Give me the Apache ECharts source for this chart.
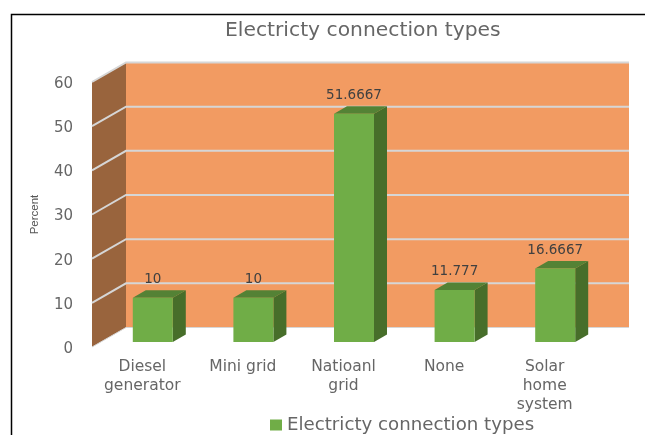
<!DOCTYPE html>
<html><head><meta charset="utf-8">
<style>html,body{margin:0;padding:0;background:#fff}#c{width:645px;height:435px}</style>
<script src="https://cdn.jsdelivr.net/npm/echarts@6/dist/echarts.min.js"></script>
</head><body><div id="c"></div>
<script>
const categories = ['Diesel\ngenerator', 'Mini grid', 'Natioanl\ngrid', 'None', 'Solar\nhome\nsystem'];
const values = [10, 10, 51.6667, 11.777, 16.6667];
const valueLabels = ['10', '10', '51.6667', '11.777', '16.6667'];
const yTicks = [0, 10, 20, 30, 40, 50, 60];
const titleText = 'Electricty connection types';
const seriesName = 'Electricty connection types';

const FONT = '"DejaVu Sans"';
const WALL_DX = 34, WALL_DY = -19.5;
const BAR_DX = 10.5, BAR_DY = -5, BAR_HALF = 20, DEPTH_DX = 13, DEPTH_DY = -7.5;

const chart = echarts.init(document.getElementById('c'), null, {renderer: 'canvas'});
chart.setOption({
  animation: false,
  backgroundColor: '#fff',
  title: {text: titleText, left: 220, top: 16,
    textStyle: {fontFamily: FONT, fontSize: 20.3, fontWeight: 'normal', color: '#666'}},
  legend: {left: 265, top: 411, itemWidth: 12, itemHeight: 11, itemGap: 6, icon: 'rect',
    data: [seriesName],
    textStyle: {fontFamily: FONT, fontSize: 18.2, color: '#666'}},
  grid: {left: 92, top: 82, width: 503, height: 265, containLabel: false},
  xAxis: {type: 'category', data: categories,
    axisLine: {show: false}, axisTick: {show: false}, splitLine: {show: false},
    axisLabel: {margin: 10, interval: 0, lineHeight: 19, fontFamily: FONT, fontSize: 15.5, color: '#666'}},
  yAxis: {type: 'value', min: 0, max: 60, interval: 10,
    name: 'Percent', nameLocation: 'middle', nameGap: 51, nameRotate: 90,
    nameTextStyle: {fontFamily: '"Liberation Sans"', fontSize: 11.5, color: '#555'},
    axisLine: {show: false}, axisTick: {show: false}, splitLine: {show: false},
    axisLabel: {margin: 19, verticalAlign: 'top', lineHeight: 4, fontFamily: FONT, fontSize: 15, color: '#666'}},
  graphic: [{type: 'polyline', z: 100, silent: true,
    shape: {points: [[11.5, 435], [11.5, 14.5], [645, 14.5]]},
    style: {stroke: '#000', lineWidth: 1.5, fill: null}}],
  series: [
    {type: 'custom', name: 'walls', coordinateSystem: 'cartesian2d', clip: false, z: 1, silent: true,
      data: [[0, 0]], encode: {x: 0, y: 1},
      renderItem(params, api) {
        const cs = params.coordSys;
        const l = cs.x, t = cs.y, b = cs.y + cs.height;
        return {type: 'group', children: [
          {type: 'rect', shape: {x: l + WALL_DX, y: t + WALL_DY, width: cs.width, height: cs.height},
            style: {fill: '#F29B62'}},
          {type: 'polygon', shape: {points: [[l, t], [l + WALL_DX, t + WALL_DY], [l + WALL_DX, b + WALL_DY], [l, b]]},
            style: {fill: '#99643D'}}
        ]};
      }},
    {type: 'custom', name: 'gridlines', coordinateSystem: 'cartesian2d', clip: false, z: 2, silent: true,
      data: yTicks.map(v => [0, v]), encode: {x: 0, y: 1},
      renderItem(params, api) {
        const cs = params.coordSys, v = api.value(1);
        const y = api.coord([0, v])[1], l = cs.x, r = cs.x + cs.width;
        return {type: 'polyline',
          shape: {points: [[l, y], [l + WALL_DX, y + WALL_DY], [r + WALL_DX, y + WALL_DY]]},
          style: {stroke: '#D6D6D6', lineWidth: v === 0 ? 1 : 2, fill: null}};
      }},
    {type: 'custom', name: seriesName, coordinateSystem: 'cartesian2d', clip: false, z: 3, silent: true,
      itemStyle: {color: '#70AD47'},
      data: values.map((v, i) => [i, v]), encode: {x: 0, y: 1},
      renderItem(params, api) {
        const i = api.value(0);
        const top = api.coord([i, api.value(1)]), base = api.coord([i, 0]);
        const cx = top[0] + BAR_DX, x0 = cx - BAR_HALF, x1 = cx + BAR_HALF;
        const yT = top[1] + BAR_DY, yB = base[1] + BAR_DY;
        return {type: 'group', children: [
          {type: 'polygon', shape: {points: [[x1, yT], [x1 + DEPTH_DX, yT + DEPTH_DY], [x1 + DEPTH_DX, yB + DEPTH_DY], [x1, yB]]},
            style: {fill: '#476E2A'}},
          {type: 'polygon', shape: {points: [[x0, yT], [x0 + DEPTH_DX, yT + DEPTH_DY], [x1 + DEPTH_DX, yT + DEPTH_DY], [x1, yT]]},
            style: {fill: '#548235'}},
          {type: 'rect', shape: {x: x0, y: yT, width: x1 - x0, height: yB - yT},
            style: {fill: '#70AD47'}},
          {type: 'text', x: cx, y: yT - 18,
            style: {text: valueLabels[i], fill: '#404040', align: 'center', verticalAlign: 'middle',
              fontFamily: FONT, fontSize: 13.5}}
        ]};
      }}
  ]
});
</script></body></html>
